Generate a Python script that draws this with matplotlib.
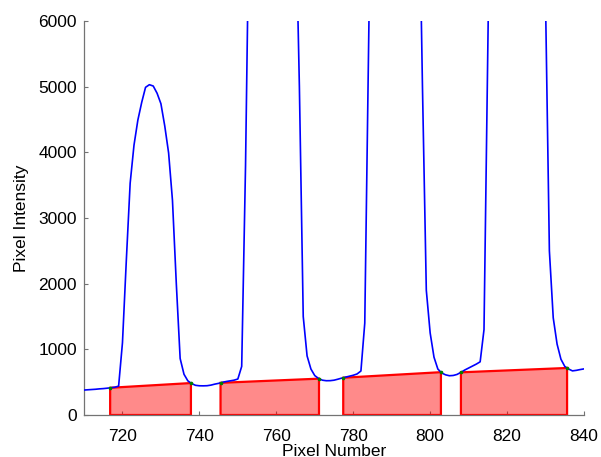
import numpy as np
import matplotlib
matplotlib.use("Agg")
import matplotlib.pyplot as plt

# ----------------------------------
# Line profile data
# ----------------------------------
PIXEL_START = 710
INTENSITY = [
    380, 384, 388, 392, 398, 402, 408, 416, 422, 440,            # 710-719
    1100, 2350, 3530, 4110, 4490, 4760, 4990, 5030, 5010, 4900,  # 720-729
    4740, 4400, 3990, 3270, 2000, 860, 620, 520, 478, 452,       # 730-739
    445, 444, 446, 455, 470, 482, 498, 510, 520, 530,            # 740-749
    548, 740, 3800, 8000, 11500, 14000, 15500, 16200, 16500, 16600,  # 750-759
    16400, 16000, 15000, 13500, 11000, 7800, 5000, 1500, 900, 700,   # 760-769
    600, 556, 530, 522, 523, 530, 545, 562, 576, 590,            # 770-779
    605, 625, 670, 1400, 5700, 9500, 12500, 14500, 15800, 16400,     # 780-789
    16700, 16800, 16600, 16000, 14800, 13000, 10800, 8500, 5000, 1900,  # 790-799
    1250, 880, 700, 640, 612, 598, 602, 618, 650, 685,           # 800-809
    715, 745, 775, 810, 1300, 5700, 9500, 12500, 14500, 15800,   # 810-819
    16500, 16800, 16900, 16800, 16400, 15600, 14200, 12500, 10800, 8800,  # 820-829
    6300, 2500, 1480, 1080, 850, 740, 700, 672, 680, 692,        # 830-839
    702,                                                         # 840
]
PIXELS = np.arange(PIXEL_START, PIXEL_START + len(INTENSITY))

# background regions between the peaks (start / end pixel)
REGION_LEFT = [716.8, 745.5, 777.4, 808.0]
REGION_RIGHT = [737.8, 771.1, 802.8, 835.6]

X_TICKS = [720, 740, 760, 780, 800, 820, 840]
Y_TICKS = [0, 1000, 2000, 3000, 4000, 5000, 6000]

plt.rcParams['font.family'] = ['Liberation Sans', 'DejaVu Sans']
plt.rcParams['font.size'] = 12.5


def plot_profile():
    fig = plt.figure(figsize=(6.01, 4.57), dpi=100)
    ax = fig.add_axes([84 / 601, 42 / 457, 500 / 601, 394 / 457])

    intensity = np.array(INTENSITY, dtype=float)

    # shaded background under each gap, edges follow the profile
    for x0, x1 in zip(REGION_LEFT, REGION_RIGHT):
        y0 = np.interp(x0, PIXELS, intensity)
        y1 = np.interp(x1, PIXELS, intensity)
        ax.fill([x0, x0, x1, x1], [0, y0, y1, 0],
                facecolor=(1, 0, 0, 0.46), edgecolor='red',
                linewidth=1.6, zorder=2)
        ax.plot([x0, x1], [y0, y1], 'o', color='green',
                markersize=1.6, zorder=4)

    ax.plot(PIXELS, intensity, color='blue', linewidth=1.2, zorder=3)

    ax.set_xlim(710, 840)
    ax.set_ylim(0, 6000)
    ax.set_xticks(X_TICKS)
    ax.set_yticks(Y_TICKS)
    ax.set_xlabel("Pixel Number", labelpad=0)
    ax.set_ylabel("Pixel Intensity", labelpad=6.5)

    for side in ('top', 'right'):
        ax.spines[side].set_visible(False)
    for side in ('left', 'bottom'):
        ax.spines[side].set_color('0.45')
        ax.spines[side].set_linewidth(0.9)
    ax.tick_params(direction='in', length=3, width=0.8,
                   color='0.45', pad=5)
    ax.tick_params(axis='x', pad=10)

    fig.savefig("out.png", dpi=100)


if __name__ == "__main__":
    plot_profile()
